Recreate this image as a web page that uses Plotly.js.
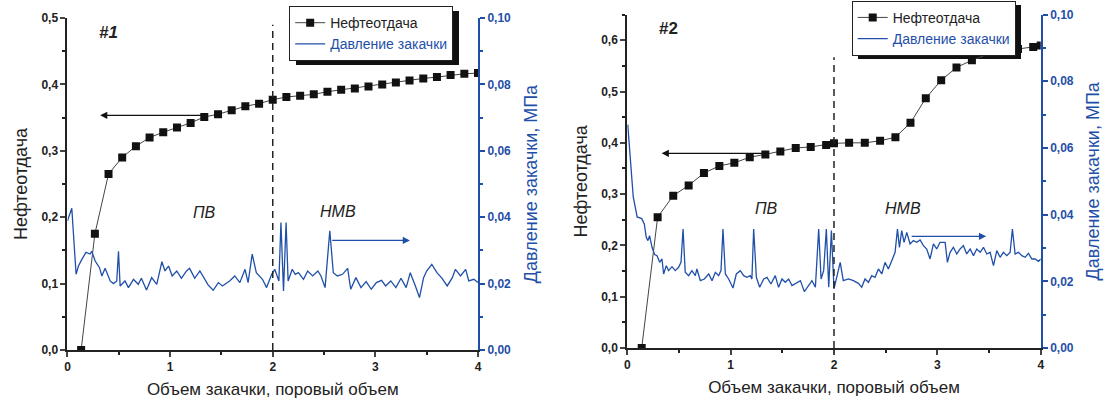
<!DOCTYPE html>
<html><head><meta charset="utf-8">
<script src="https://cdn.plot.ly/plotly-3.0.1.min.js"></script>
<style>
html,body{margin:0;padding:0;background:#fff}
#wrap{position:relative;width:1108px;height:406px}
#chart{position:absolute;left:0;top:0;width:1108px;height:406px;z-index:2}
.shadow{position:absolute;background:#111;z-index:1}
</style>
</head><body><div id="wrap"><div class="shadow" id="sh1" style="left:295px;top:10px;width:162px;height:52px"></div><div class="shadow" id="sh2" style="left:858px;top:5px;width:162px;height:52px"></div><div id="chart"></div></div>
<script>
// ---- Panel #1 ----
const rec1X = [0.133,0.267,0.4,0.533,0.667,0.8,0.933,1.067,1.2,1.333,1.467,1.6,1.733,1.867,2.0,2.133,2.267,2.4,2.533,2.667,2.8,2.933,3.067,3.2,3.333,3.467,3.6,3.733,3.867,4.0];
const rec1Y = [0,0.175,0.265,0.29,0.307,0.32,0.328,0.335,0.342,0.351,0.355,0.361,0.367,0.371,0.377,0.381,0.383,0.385,0.389,0.392,0.394,0.397,0.400,0.403,0.406,0.409,0.411,0.414,0.416,0.417];
const p1X = [0,0.042,0.084,0.107,0.14,0.18,0.22,0.237,0.27,0.312,0.335,0.367,0.416,0.448,0.48,0.497,0.513,0.56,0.594,0.643,0.69,0.72,0.77,0.82,0.87,0.92,0.95,0.985,1.02,1.065,1.11,1.16,1.19,1.24,1.29,1.34,1.37,1.42,1.47,1.51,1.58,1.63,1.68,1.73,1.76,1.80,1.84,1.90,1.94,1.99,2.02,2.06,2.08,2.105,2.13,2.15,2.19,2.22,2.25,2.30,2.34,2.39,2.44,2.47,2.51,2.556,2.59,2.63,2.68,2.73,2.76,2.81,2.86,2.91,2.96,3.01,3.06,3.10,3.15,3.20,3.25,3.30,3.34,3.39,3.43,3.47,3.50,3.55,3.60,3.65,3.70,3.75,3.78,3.83,3.88,3.91,3.96,4.00];
const p1Y = [0.0389,0.0427,0.0228,0.0253,0.0273,0.0294,0.0289,0.0297,0.0268,0.0248,0.0223,0.0246,0.0208,0.020,0.0208,0.0297,0.0193,0.0208,0.0188,0.0213,0.0198,0.0216,0.0181,0.0218,0.0198,0.0266,0.0238,0.0253,0.0223,0.0238,0.0216,0.0238,0.0246,0.0216,0.0238,0.0213,0.0196,0.018,0.0203,0.0193,0.0208,0.0223,0.0203,0.0243,0.0203,0.0289,0.0233,0.0213,0.0188,0.0228,0.0243,0.0208,0.0384,0.0178,0.0384,0.0208,0.0243,0.0228,0.0233,0.0213,0.0238,0.0223,0.0238,0.0223,0.0188,0.0359,0.0233,0.0223,0.0228,0.0246,0.0183,0.0218,0.0188,0.0206,0.0183,0.0203,0.021,0.0193,0.0208,0.0188,0.0216,0.0188,0.0233,0.0193,0.0158,0.0218,0.0238,0.0258,0.0233,0.0216,0.0193,0.0218,0.0243,0.0223,0.0243,0.0208,0.0213,0.0203];

// ---- Panel #2 ----
const rec2X = [0.14,0.294,0.445,0.594,0.742,0.891,1.036,1.185,1.336,1.481,1.63,1.775,1.924,2.0,2.146,2.298,2.446,2.594,2.74,2.888,3.037,3.185,3.334,3.482,3.63,3.78,3.927,4.0];
const rec2Y = [0,0.255,0.297,0.317,0.341,0.355,0.361,0.372,0.3775,0.383,0.39,0.392,0.396,0.399,0.400,0.400,0.404,0.411,0.439,0.487,0.522,0.547,0.561,0.572,0.576,0.583,0.587,0.590];
const p2X = [0.005,0.03,0.058,0.096,0.14,0.165,0.184,0.2,0.216,0.24,0.265,0.288,0.314,0.336,0.352,0.378,0.4,0.433,0.465,0.497,0.52,0.54,0.561,0.594,0.626,0.658,0.674,0.707,0.746,0.788,0.82,0.852,0.884,0.907,0.926,0.949,0.981,1.023,1.055,1.094,1.126,1.158,1.19,1.206,1.223,1.249,1.281,1.32,1.352,1.39,1.432,1.464,1.497,1.529,1.561,1.594,1.642,1.675,1.713,1.755,1.787,1.82,1.852,1.875,1.9,1.926,1.949,1.975,2.0,2.06,2.09,2.14,2.188,2.236,2.268,2.3,2.333,2.365,2.397,2.43,2.462,2.494,2.526,2.559,2.591,2.614,2.633,2.655,2.678,2.704,2.736,2.768,2.8,2.833,2.865,2.897,2.929,2.962,2.994,3.026,3.075,3.097,3.123,3.155,3.188,3.22,3.252,3.284,3.317,3.349,3.381,3.414,3.446,3.478,3.51,3.543,3.575,3.607,3.639,3.672,3.704,3.726,3.752,3.785,3.817,3.849,3.881,3.914,3.946,3.978,4.0];
const p2Y = [0.067,0.058,0.0453,0.0393,0.0388,0.0372,0.0332,0.0322,0.0337,0.0302,0.028,0.0277,0.0257,0.0267,0.0222,0.0247,0.0232,0.0244,0.0232,0.0242,0.0257,0.0357,0.0227,0.0217,0.0232,0.0217,0.0237,0.0202,0.0207,0.0222,0.0202,0.0227,0.0217,0.0232,0.0357,0.0222,0.0207,0.018,0.0222,0.0232,0.0217,0.0212,0.0217,0.0207,0.0357,0.0212,0.0182,0.0207,0.0212,0.0192,0.0217,0.0182,0.0207,0.0197,0.0207,0.0187,0.0197,0.0202,0.0169,0.0187,0.0202,0.0182,0.0357,0.0207,0.0232,0.0357,0.0182,0.0352,0.0177,0.0257,0.0202,0.0207,0.0202,0.0194,0.0182,0.0207,0.0197,0.0217,0.0212,0.0237,0.0222,0.0257,0.0237,0.0262,0.0287,0.0357,0.0302,0.0352,0.0317,0.0347,0.0312,0.0322,0.0317,0.0324,0.0307,0.0297,0.0267,0.0312,0.0297,0.0317,0.0317,0.0257,0.0287,0.0302,0.0282,0.0297,0.0307,0.0282,0.0297,0.0277,0.0297,0.0287,0.0302,0.0282,0.0287,0.0247,0.0292,0.0272,0.0287,0.0277,0.0287,0.0357,0.0282,0.0287,0.0277,0.0272,0.0284,0.0267,0.0267,0.0260,0.0267];

const xTicks = [0,1,2,3,4];
const recName = 'Нефтеотдача';
const presName = 'Давление закачки';
const xTitle = 'Объем закачки, поровый объем';
const yLeftTitle = 'Нефтеотдача';
const yRightTitle = 'Давление закачки, МПа';

const BLUE = '#1f4fa8';
const FONT = 'Liberation Sans, Arial, sans-serif';
const tickFont = {family: FONT, size: 12, color: '#222', weight: 'bold'};
const tickFontB = {family: FONT, size: 12, color: BLUE, weight: 'bold'};

const recStyle = {mode: 'lines+markers', line: {color: '#444', width: 1}, marker: {symbol: 'square', size: 8, color: '#111'}};
const presStyle = {mode: 'lines', line: {color: BLUE, width: 1.3}};
const presLabel = '<span style="color:' + BLUE + '">' + presName + '</span>';

const traces = [
  Object.assign({x: p1X, y: p1Y, xaxis: 'x', yaxis: 'y2', name: presLabel, legend: 'legend'}, presStyle),
  Object.assign({x: rec1X, y: rec1Y, xaxis: 'x', yaxis: 'y', name: recName, legend: 'legend'}, recStyle),
  Object.assign({x: p2X, y: p2Y, xaxis: 'x2', yaxis: 'y4', name: presLabel, legend: 'legend2'}, presStyle),
  Object.assign({x: rec2X, y: rec2Y, xaxis: 'x2', yaxis: 'y3', name: recName, legend: 'legend2'}, recStyle)
];

function xax(domain, anchor) {
  return {domain: domain, anchor: anchor, range: [0, 4], tickvals: xTicks, ticks: 'outside', ticklen: 5, tickwidth: 2,
    showline: true, linecolor: '#222', linewidth: 2, showgrid: false, zeroline: false, tickfont: tickFont,
    minor: {dtick: 0.5, ticks: 'outside', ticklen: 3, tickwidth: 2, tickcolor: '#222', showgrid: false},
    title: {text: xTitle, font: {family: FONT, size: 17, color: '#222'}, standoff: 10}};
}
function ylax(domain, anchor, range, dtick) {
  return {domain: domain, anchor: anchor, range: range, dtick: dtick, tick0: 0, tickformat: '.1f', ticks: 'outside', ticklen: 5, tickwidth: 2,
    showline: true, linecolor: '#222', linewidth: 2, showgrid: false, zeroline: false, tickfont: tickFont,
    minor: {dtick: dtick / 2, ticks: 'outside', ticklen: 3, tickwidth: 2, tickcolor: '#222', showgrid: false},
    title: {text: yLeftTitle, font: {family: FONT, size: 18, color: '#222'}, standoff: 9}};
}
function yrax(overlay, anchor) {
  return {overlaying: overlay, anchor: anchor, side: 'right', range: [0, 0.1], dtick: 0.02, tickformat: '.2f', ticks: 'outside', ticklen: 5, tickwidth: 2,
    tickcolor: BLUE, showline: true, linecolor: BLUE, linewidth: 2, showgrid: false, zeroline: false, tickfont: tickFontB,
    minor: {dtick: 0.01, ticks: 'outside', ticklen: 3, tickwidth: 2, tickcolor: BLUE, showgrid: false},
    title: {text: yRightTitle, font: {family: FONT, size: 18, color: BLUE}, standoff: 14}};
}

const W = 1108, H = 406;
const legFont = {family: FONT, size: 14, color: '#222'};
const layout = {
  width: W, height: H, margin: {l: 0, r: 0, t: 0, b: 0},
  paper_bgcolor: 'rgba(0,0,0,0)', plot_bgcolor: 'rgba(0,0,0,0)', separators: ',.',
  showlegend: true,
  xaxis: xax([0.0609, 0.4314], 'y'),
  yaxis: ylax([0.1379, 0.9557], 'x', [0, 0.5], 0.1),
  yaxis2: yrax('y', 'x'),
  xaxis2: xax([0.5661, 0.9393], 'y3'),
  yaxis3: ylax([0.1429, 0.964], 'x2', [0, 0.65], 0.1),
  yaxis4: yrax('y3', 'x2'),
  legend: {x: 0.261, y: 0.985, xanchor: 'left', yanchor: 'top', traceorder: 'reversed', bgcolor: '#fff', bordercolor: '#222', borderwidth: 1, font: legFont, tracegroupgap: 0, itemwidth: 30},
  legend2: {x: 0.7687, y: 0.998, xanchor: 'left', yanchor: 'top', traceorder: 'reversed', bgcolor: '#fff', bordercolor: '#222', borderwidth: 1, font: legFont, tracegroupgap: 0, itemwidth: 30},
  shapes: [
    {type: 'line', xref: 'x', yref: 'y', x0: 2, x1: 2, y0: 0, y1: 0.49, line: {color: '#222', width: 1.5, dash: '7px,5px'}},
    {type: 'line', xref: 'x2', yref: 'y3', x0: 2, x1: 2, y0: 0, y1: 0.567, line: {color: '#222', width: 1.5, dash: '7px,5px'}}
  ],
  annotations: [
    {xref: 'x', yref: 'y', x: 0.318, y: 0.3534, ax: 1.33, ay: 0.3534, axref: 'x', ayref: 'y', text: '', showarrow: true, arrowhead: 2, arrowsize: 1.2, arrowwidth: 1.2, arrowcolor: '#111'},
    {xref: 'x', yref: 'y2', x: 3.337, y: 0.033, ax: 2.565, ay: 0.033, axref: 'x', ayref: 'y2', text: '', showarrow: true, arrowhead: 2, arrowsize: 1.2, arrowwidth: 1.2, arrowcolor: BLUE},
    {xref: 'x2', yref: 'y3', x: 0.333, y: 0.3795, ax: 1.35, ay: 0.3795, axref: 'x2', ayref: 'y3', text: '', showarrow: true, arrowhead: 2, arrowsize: 1.2, arrowwidth: 1.2, arrowcolor: '#111'},
    {xref: 'x2', yref: 'y4', x: 3.472, y: 0.0335, ax: 2.737, ay: 0.0335, axref: 'x2', ayref: 'y4', text: '', showarrow: true, arrowhead: 2, arrowsize: 1.2, arrowwidth: 1.2, arrowcolor: BLUE},
    {xref: 'x', yref: 'y', x: 0.40, y: 0.478, text: '<b><i>#1</i></b>', showarrow: false, font: {family: FONT, size: 17, color: '#222'}},
    {xref: 'x', yref: 'y', x: 1.34, y: 0.207, text: '<i>ПВ</i>', showarrow: false, font: {family: FONT, size: 16, color: '#222'}},
    {xref: 'x', yref: 'y', x: 2.635, y: 0.209, text: '<i>НМВ</i>', showarrow: false, font: {family: FONT, size: 16, color: '#222'}},
    {xref: 'x2', yref: 'y3', x: 0.404, y: 0.623, text: '<b>#2</b>', showarrow: false, font: {family: FONT, size: 17, color: '#222'}},
    {xref: 'x2', yref: 'y3', x: 1.343, y: 0.271, text: '<i>ПВ</i>', showarrow: false, font: {family: FONT, size: 16, color: '#222'}},
    {xref: 'x2', yref: 'y3', x: 2.67, y: 0.272, text: '<i>НМВ</i>', showarrow: false, font: {family: FONT, size: 16, color: '#222'}}
  ]
};
Plotly.newPlot('chart', traces, layout, {staticPlot: true, displayModeBar: false}).then(function (gd) {
  // align each drop shadow with the legend box Plotly drew (offset 6px right, 4px down)
  const root = document.getElementById('wrap').getBoundingClientRect();
  [['legend', 'sh1'], ['legend2', 'sh2']].forEach(function (p) {
    const bg = gd.querySelector('g.' + p[0] + ' rect.bg');
    if (!bg) return;
    const r = bg.getBoundingClientRect();
    const s = document.getElementById(p[1]).style;
    s.left = (r.left - root.left + 6) + 'px';
    s.top = (r.top - root.top + 4) + 'px';
    s.width = r.width + 'px';
    s.height = r.height + 'px';
  });
});
</script></body></html>
